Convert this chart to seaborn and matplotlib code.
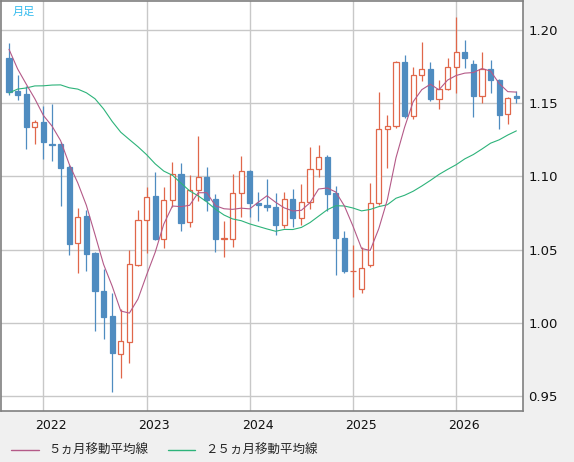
import numpy as np
import pandas as pd
import matplotlib
matplotlib.use("Agg")
import matplotlib.pyplot as plt
import seaborn as sns
from matplotlib.lines import Line2D

months = pd.date_range("2021-09-01", "2026-08-01", freq="MS")
opens = [1.1806,1.1583,1.1563,1.1340,1.1370,1.1221,1.1221,1.1067,1.0543,1.0729,1.0474,1.0217,1.0046,0.9785,0.9871,1.0395,
         1.0702,1.0866,1.0570,1.0836,1.1017,1.0690,1.0908,1.0998,1.0844,1.0573,1.0574,1.0886,1.1040,1.0818,1.0805,1.0789,
         1.0666,1.0848,1.0713,1.0826,1.1049,1.1134,1.0884,1.0578,1.0351,1.0229,1.0395,1.0816,1.1321,1.1344,1.1784,1.1416,
         1.1690,1.1731,1.1529,1.1595,1.1745,1.1847,1.1766,1.1551,1.1731,1.1658,1.1424,1.1549]
closes = [1.1579,1.1558,1.1340,1.1370,1.1235,1.1218,1.1060,1.0538,1.0725,1.0470,1.0220,1.0042,0.9796,0.9876,1.0399,1.0702,
          1.0862,1.0570,1.0839,1.1017,1.0680,1.0908,1.0998,1.0842,1.0573,1.0575,1.0887,1.1039,1.0818,1.0805,1.0790,1.0666,
          1.0848,1.0713,1.0826,1.1048,1.1135,1.0883,1.0577,1.0351,1.0356,1.0372,1.0816,1.1321,1.1344,1.1784,1.1413,1.1690,
          1.1731,1.1529,1.1595,1.1745,1.1847,1.1811,1.1549,1.1731,1.1660,1.1422,1.1533,1.1533]
highs = [1.1913,1.1692,1.1616,1.1386,1.1483,1.1495,1.1237,1.1078,1.0782,1.0770,1.0486,1.0365,1.0201,1.0092,1.0497,1.0771,
         1.0930,1.1032,1.0930,1.1100,1.1094,1.1012,1.1276,1.1067,1.0880,1.0698,1.1017,1.1139,1.1046,1.0896,1.0982,1.0889,
         1.0895,1.0914,1.0948,1.1203,1.1214,1.1146,1.0935,1.0629,1.0531,1.0520,1.0957,1.1578,1.1419,1.1788,1.1829,1.1750,
         1.1920,1.1781,1.1658,1.1809,1.2087,1.1932,1.1795,1.1850,1.1795,1.1663,1.1540,1.1583]
lows = [1.1556,1.1524,1.1186,1.1222,1.1121,1.1107,1.0800,1.0463,1.0342,1.0356,0.9946,0.9892,0.9530,0.9625,0.9723,1.0390,
        1.0475,1.0566,1.0509,1.0793,1.0630,1.0657,1.0834,1.0765,1.0486,1.0448,1.0516,1.0723,1.0723,1.0695,1.0766,1.0601,
        1.0650,1.0657,1.0665,1.0777,1.0998,1.0761,1.0327,1.0341,1.0174,1.0206,1.0383,1.0806,1.1060,1.1330,1.1400,1.1390,
        1.1650,1.1517,1.1463,1.1590,1.1572,1.1738,1.1408,1.1504,1.1572,1.1321,1.1356,1.1499]
# closes before the visible range (Sep 2019 - Aug 2021), used only for the moving averages
prior_closes = [1.0899,1.1152,1.1018,1.1213,1.1093,1.1027,1.1031,1.0955,1.1100,1.1234,1.1779,1.1936,
                1.1721,1.1647,1.1928,1.2216,1.2136,1.2075,1.1730,1.2020,1.2227,1.1858,1.1870,1.1807]
legend_labels = ["５ヵ月移動平均線", "２５ヵ月移動平均線"]
year_labels = ["2022", "2023", "2024", "2025", "2026"]
y_ticks = [0.95, 1.00, 1.05, 1.10, 1.15, 1.20]

allc = pd.Series(prior_closes + closes)
ma5 = allc.rolling(5).mean().values[len(prior_closes):]
ma25 = allc.rolling(25).mean().values[len(prior_closes):]
n = len(months)
df = pd.DataFrame({"i": np.arange(n), "ma5": ma5, "ma25": ma25})

sns.set_style("white")
plt.rcParams['font.family'] = ['Noto Sans CJK JP', 'DejaVu Sans']
fig = plt.figure(figsize=(5.74, 4.62), dpi=100, facecolor="#f0f0f0")
ax = fig.add_axes([1/574, 51/462, 522/574, 410/462])
ax.set_facecolor("white")

ax.set_xlim(-0.93, 59.77)
ax.set_ylim(0.9398, 1.2198)
for t in y_ticks:
    ax.axhline(t, color="#c8c8c8", lw=1, zorder=0)
jan_idx = [i for i, m in enumerate(months) if m.month == 1]
for i in jan_idx:
    ax.axvline(i, color="#c8c8c8", lw=1, zorder=0)

blue, red = "#4f8cc0", "#e0674a"
for i in range(n):
    o, c, h, l = opens[i], closes[i], highs[i], lows[i]
    up = c >= o
    col = red if up else blue
    ax.vlines(i, l, h, color=col, lw=0.9, zorder=2)
    lo, hi = min(o, c), max(o, c)
    hgt = max(hi - lo, 0.0004)
    ax.bar(i, hgt, bottom=lo, width=0.62, color="white" if up else blue,
           edgecolor=col, linewidth=0.9, zorder=3)

sns.lineplot(data=df, x="i", y="ma25", ax=ax, color="#2db37a", lw=0.8, zorder=4)
sns.lineplot(data=df, x="i", y="ma5", ax=ax, color="#b45a88", lw=0.8, zorder=5)

ax.set_xticks(jan_idx)
ax.set_xticklabels([])
ax.set_xlabel(""); ax.set_ylabel("")
for i, lab in zip(jan_idx, year_labels):
    ax.text(i + 0.9, -0.02, lab, transform=ax.get_xaxis_transform(), ha="center", va="top",
            fontsize=9, family="DejaVu Sans", color="#111111")
ax.yaxis.tick_right()
ax.set_yticks(y_ticks)
ax.set_yticklabels([f"{t:.2f}" for t in y_ticks], fontsize=9.5, family="DejaVu Sans", color="#111111")
ax.tick_params(length=0, pad=4)
for s in ax.spines.values():
    s.set_color("#808080"); s.set_linewidth(1.2)

ax.text(0.022, 0.985, "月足", transform=ax.transAxes, color="#33bbee", fontsize=8, va="top")

handles = [Line2D([], [], color="#b45a88", lw=1), Line2D([], [], color="#2db37a", lw=1)]
fig.legend(handles, legend_labels, loc="lower left", bbox_to_anchor=(0.0, -0.014), ncol=2,
           frameon=False, fontsize=9, handlelength=2.2, columnspacing=1.5)

fig.savefig("out.png", dpi=100, facecolor=fig.get_facecolor())
